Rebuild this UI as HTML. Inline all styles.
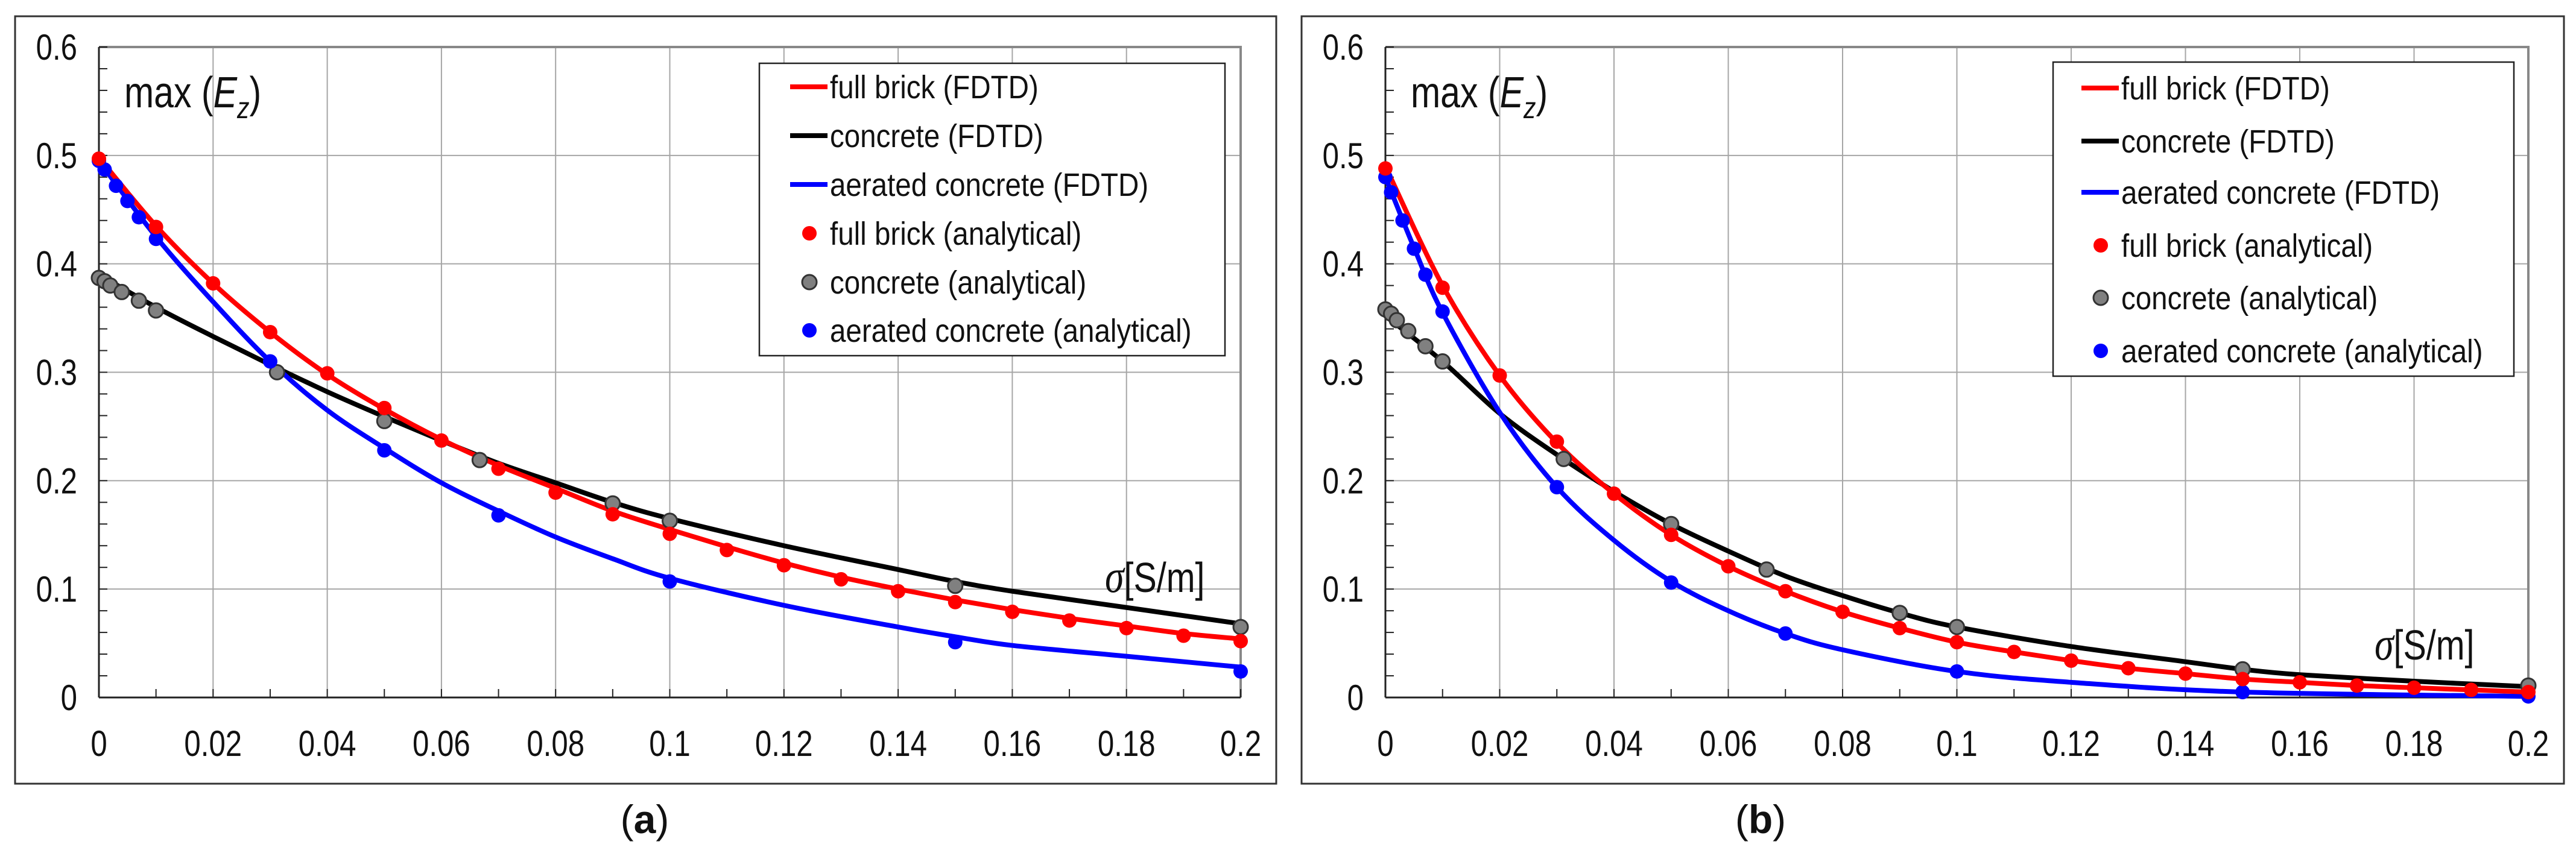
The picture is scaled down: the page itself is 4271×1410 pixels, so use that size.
<!DOCTYPE html>
<html><head><meta charset="utf-8"><style>
html,body{margin:0;padding:0;background:#fff}
svg{display:block}
text{font-family:"Liberation Sans",Arial,sans-serif}
</style></head><body>
<svg id="fig" width="4271" height="1410" viewBox="0 0 4271 1410" xmlns="http://www.w3.org/2000/svg"></svg>
<script>
// ---- data (panel a) ----
const xTicks = [0,0.02,0.04,0.06,0.08,0.1,0.12,0.14,0.16,0.18,0.2];
const xTickLabels = ["0","0.02","0.04","0.06","0.08","0.1","0.12","0.14","0.16","0.18","0.2"];
const yTicks = [0,0.1,0.2,0.3,0.4,0.5,0.6];
const yTickLabels = ["0","0.1","0.2","0.3","0.4","0.5","0.6"];

const aRedLineX = [0,0.01,0.02,0.03,0.04,0.05,0.06,0.07,0.08,0.09,0.1,0.11,0.12,0.13,0.14,0.15,0.16,0.17,0.18,0.19,0.2];
const aRedLineY = [0.498,0.435,0.382,0.337,0.298,0.266,0.238,0.214,0.193,0.172,0.155,0.139,0.124,0.111,0.1,0.09,0.081,0.073,0.066,0.059,0.054];
const aRedPtX = [0,0.01,0.02,0.03,0.04,0.05,0.06,0.07,0.08,0.09,0.1,0.11,0.12,0.13,0.14,0.15,0.16,0.17,0.18,0.19,0.2];
const aRedPtY = [0.497,0.434,0.382,0.337,0.299,0.267,0.237,0.211,0.189,0.169,0.151,0.136,0.122,0.109,0.098,0.088,0.079,0.071,0.064,0.057,0.052];
const aBlkLineX = [0,0.01,0.02,0.03,0.04,0.05,0.06,0.07,0.08,0.09,0.1,0.12,0.14,0.15,0.16,0.18,0.2];
const aBlkLineY = [0.39,0.36,0.333,0.307,0.282,0.259,0.237,0.216,0.198,0.18,0.165,0.14,0.118,0.107,0.098,0.083,0.068];
const aGrayPtX = [0,0.001,0.002,0.004,0.007,0.01,0.0312,0.05,0.0667,0.09,0.1,0.15,0.2];
const aGrayPtY = [0.387,0.384,0.38,0.374,0.366,0.357,0.3,0.255,0.219,0.179,0.163,0.103,0.065];
const aBlueLineX = [0,0.01,0.02,0.03,0.04,0.05,0.06,0.07,0.08,0.09,0.1,0.12,0.14,0.15,0.16,0.18,0.2];
const aBlueLineY = [0.495,0.425,0.365,0.31,0.265,0.23,0.198,0.172,0.148,0.128,0.11,0.085,0.065,0.056,0.048,0.038,0.028];
const aBluePtX = [0,0.001,0.003,0.005,0.007,0.01,0.03,0.05,0.07,0.1,0.15,0.2];
const aBluePtY = [0.495,0.487,0.472,0.458,0.443,0.423,0.31,0.228,0.168,0.107,0.051,0.024];

// ---- data (panel b) ----
const bRedLineX = [0,0.01,0.02,0.03,0.04,0.05,0.06,0.07,0.08,0.09,0.1,0.11,0.12,0.13,0.14,0.15,0.16,0.17,0.18,0.19,0.2];
const bRedLineY = [0.49,0.38,0.297,0.235,0.188,0.15,0.121,0.098,0.079,0.064,0.051,0.042,0.034,0.027,0.022,0.017,0.014,0.011,0.009,0.007,0.005];
const bRedPtX = [0,0.01,0.02,0.03,0.04,0.05,0.06,0.07,0.08,0.09,0.1,0.11,0.12,0.13,0.14,0.15,0.16,0.17,0.18,0.19,0.2];
const bRedPtY = [0.488,0.378,0.297,0.236,0.188,0.15,0.121,0.098,0.079,0.064,0.051,0.042,0.034,0.027,0.022,0.017,0.014,0.011,0.009,0.007,0.005];
const bBlkLineX = [0,0.01,0.02,0.03,0.04,0.05,0.06,0.07,0.08,0.09,0.1,0.12,0.14,0.15,0.16,0.18,0.2];
const bBlkLineY = [0.352,0.31,0.262,0.224,0.19,0.16,0.135,0.112,0.094,0.078,0.065,0.047,0.033,0.026,0.021,0.015,0.01];
const bGrayPtX = [0,0.001,0.002,0.004,0.007,0.01,0.0312,0.05,0.0667,0.09,0.1,0.15,0.2];
const bGrayPtY = [0.358,0.354,0.348,0.338,0.324,0.31,0.22,0.16,0.118,0.078,0.065,0.026,0.011];
const bBlueLineX = [0,0.005,0.01,0.02,0.03,0.04,0.05,0.06,0.07,0.08,0.1,0.12,0.15,0.2];
const bBlueLineY = [0.48,0.415,0.355,0.263,0.194,0.145,0.107,0.08,0.059,0.044,0.024,0.014,0.005,0.001];
const bBluePtX = [0,0.001,0.003,0.005,0.007,0.01,0.03,0.05,0.07,0.1,0.15,0.2];
const bBluePtY = [0.48,0.466,0.44,0.414,0.39,0.356,0.194,0.106,0.059,0.024,0.005,0.001];

const legendLabels = ["full brick (FDTD)","concrete (FDTD)","aerated concrete (FDTD)","full brick (analytical)","concrete (analytical)","aerated concrete (analytical)"];

const NS = "http://www.w3.org/2000/svg";
const svg = document.getElementById('fig');
function mk(tag, attrs, parent){
  const e = document.createElementNS(NS, tag);
  for (const k in attrs) e.setAttribute(k, attrs[k]);
  (parent||svg).appendChild(e);
  return e;
}
function smoothPath(pts){
  let d = "M"+pts[0][0]+","+pts[0][1];
  for (let i=0;i<pts.length-1;i++){
    const p0=pts[Math.max(0,i-1)], p1=pts[i], p2=pts[i+1], p3=pts[Math.min(pts.length-1,i+2)];
    const c1x=p1[0]+(p2[0]-p0[0])/6, c1y=p1[1]+(p2[1]-p0[1])/6;
    const c2x=p2[0]-(p3[0]-p1[0])/6, c2y=p2[1]-(p3[1]-p1[1])/6;
    d+=" C"+c1x+","+c1y+" "+c2x+","+c2y+" "+p2[0]+","+p2[1];
  }
  return d;
}
// condensed text at (x,y)
function ctext(x,y,size,sx,anchor,parent){
  return mk('text',{x:0,y:0,transform:'translate('+x+','+y+') scale('+sx+',1)','font-size':size,'text-anchor':anchor,fill:'#111'},parent);
}

function panel(cfg){
  const g = mk('g', {});
  
  
  const X = v => cfg.x0 + (v-0)/(0.2)*(cfg.x1-cfg.x0);
  const Y = v => cfg.y0 - v/0.6*(cfg.y0-cfg.y1);
  const frame = mk('rect', {x:cfg.fx0, y:27, width:cfg.fx1-cfg.fx0, height:1273, fill:'none', stroke:'#333', 'stroke-width':3}, g);
  
  
  xTicks.forEach((t,i)=>{
    if(i>0){ const l=mk('line',{x1:X(t),x2:X(t),y1:cfg.y1,y2:cfg.y0,stroke:'#a6a6a6','stroke-width':2},g);
        }
    const tx=ctext(X(t),1254,60,0.82,'middle',g);
    tx.textContent=xTickLabels[i];
     
  });
  yTicks.forEach((t,i)=>{
    if(i>0){ const l=mk('line',{x1:cfg.x0,x2:cfg.x1,y1:Y(t),y2:Y(t),stroke:'#a6a6a6','stroke-width':2},g);
        }
    const tx=ctext(cfg.x0-36,Y(t)+21,60,0.82,'end',g);
    tx.textContent=yTickLabels[i];
     
  });
  mk('polyline',{points:cfg.x0+','+cfg.y1+' '+cfg.x1+','+cfg.y1+' '+cfg.x1+','+cfg.y0,fill:'none',stroke:'#888','stroke-width':4},g);
  for(let v=0; v<=0.6001; v+=0.02) mk('line',{x1:cfg.x0,x2:cfg.x0+14,y1:Y(v),y2:Y(v),stroke:'#222','stroke-width':2},g);
  for(let v=0; v<=0.2001; v+=0.01) mk('line',{x1:X(v),x2:X(v),y1:cfg.y0,y2:cfg.y0-14,stroke:'#222','stroke-width':2},g);
  const ya=mk('line',{x1:cfg.x0,x2:cfg.x0,y1:cfg.y1,y2:cfg.y0,stroke:'#222','stroke-width':3},g);
   
  const xa=mk('line',{x1:cfg.x0,x2:cfg.x1,y1:cfg.y0,y2:cfg.y0,stroke:'#222','stroke-width':3},g);
   
  function line(xs, ys, col, name){
    const p=mk('path',{d:smoothPath(xs.map((x,i)=>[X(x),Y(ys[i])])),fill:'none',stroke:col,'stroke-width':8,'stroke-linejoin':'round','stroke-linecap':'round'},g);
    
    
  }
  function pts(xs, ys, col, stroke, name){
    xs.forEach((x,i)=>{
      const c=mk('circle',{cx:X(x),cy:Y(ys[i]),r:12,fill:col,stroke:stroke,'stroke-width':stroke==='none'?0:3},g);
      
      
    });
  }
  line(cfg.blkX,cfg.blkY,'#000','concrete-fdtd-line');
  line(cfg.blueX,cfg.blueY,'#0000ff','aerated-concrete-fdtd-line');
  line(cfg.redX,cfg.redY,'#ff0000','full-brick-fdtd-line');
  pts(cfg.grayX,cfg.grayY,'#808080','#333','concrete-analytical-point');
  pts(cfg.bluePX,cfg.bluePY,'#0000ff','none','aerated-concrete-analytical-point');
  pts(cfg.redPX,cfg.redPY,'#ff0000','none','full-brick-analytical-point');
  const lg=mk('g',{},g);
   
  mk('rect',{x:cfg.lx0,y:cfg.ly0,width:cfg.lx1-cfg.lx0,height:cfg.ly1-cfg.ly0,fill:'#fff',stroke:'#222','stroke-width':2.5},lg);
  const cols=['#ff0000','#000','#0000ff','#ff0000','#808080','#0000ff'];
  legendLabels.forEach((lab,i)=>{
    const e=mk('g',{},lg);
     
    const yy=cfg.legY[i];
    if(i<3) mk('line',{x1:cfg.lsx,x2:cfg.lsx+62,y1:yy,y2:yy,stroke:cols[i],'stroke-width':8},e);
    else mk('circle',{cx:cfg.lsx+32,cy:yy,r:12,fill:cols[i],stroke:i===4?'#333':'none','stroke-width':i===4?3:0},e);
    const t=ctext(cfg.lsx+66,yy+19,54,0.88,'start',e);
    t.textContent=lab;
  });
  const ti=ctext(cfg.x0+42,178,72,0.82,'start',g);
   
  ti.innerHTML='max (<tspan font-style="italic">E</tspan><tspan font-style="italic" font-size="50" dy="18">z</tspan><tspan dy="-18">)</tspan>';
  const sx=ctext(cfg.sigX,cfg.sigY,70,0.82,'start',g);
   
  sx.innerHTML='<tspan font-family="Liberation Serif, serif" font-style="italic" font-size="78">σ</tspan>[S/m]';
  const cap=mk('text',{x:cfg.capX,y:1382,'font-size':66,'text-anchor':'middle',fill:'#111','font-family':'Liberation Serif, serif'},g);
   
  cap.innerHTML='(<tspan font-weight="bold">'+cfg.id+'</tspan>)';
}

panel({id:'a',x0:164,x1:2057,y0:1157,y1:78,fx0:25,fx1:2116,
  lx0:1259,lx1:2031,ly0:105,ly1:590,legY:[144,225,306,387,468,548],lsx:1310,
  sigX:1832,sigY:982,capX:1069,
  redX:aRedLineX,redY:aRedLineY,redPX:aRedPtX,redPY:aRedPtY,blkX:aBlkLineX,blkY:aBlkLineY,
  grayX:aGrayPtX,grayY:aGrayPtY,blueX:aBlueLineX,blueY:aBlueLineY,bluePX:aBluePtX,bluePY:aBluePtY});
panel({id:'b',x0:2297,x1:4192,y0:1157,y1:78,fx0:2158,fx1:4251,
  lx0:3404,lx1:4168,ly0:103,ly1:624,legY:[146,234,319,407,494,582],lsx:3451,
  sigX:3937,sigY:1094,capX:2919,
  redX:bRedLineX,redY:bRedLineY,redPX:bRedPtX,redPY:bRedPtY,blkX:bBlkLineX,blkY:bBlkLineY,
  grayX:bGrayPtX,grayY:bGrayPtY,blueX:bBlueLineX,blueY:bBlueLineY,bluePX:bBluePtX,bluePY:bBluePtY});
</script>
</body></html>
